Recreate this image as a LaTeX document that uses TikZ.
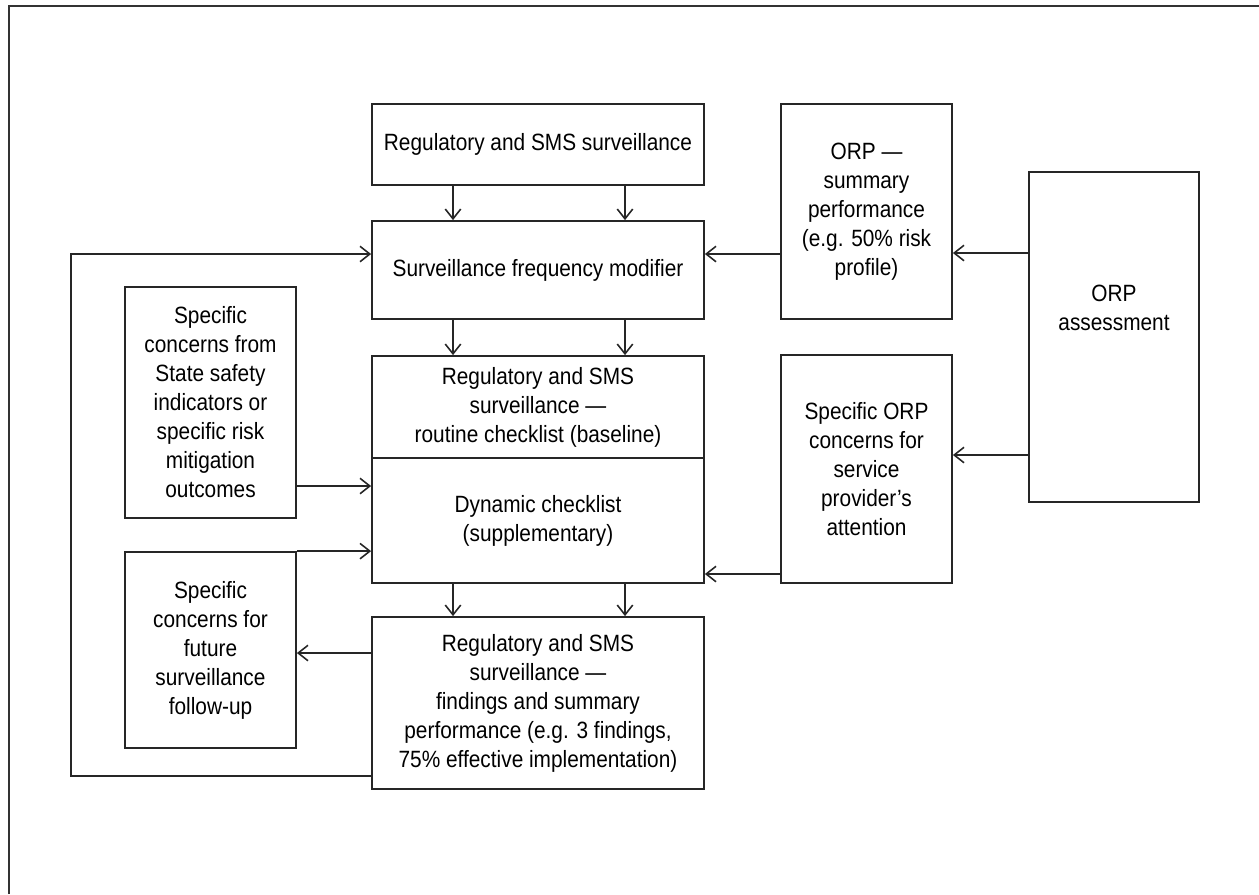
\documentclass[tikz,border=0pt]{standalone}
\usepackage{fontspec}
\setmainfont{Liberation Sans}[FakeStretch=0.885]
\usetikzlibrary{arrows.meta}

\begin{document}
\begin{tikzpicture}[
    font=\fontsize{6.7}{8.25}\selectfont,
    wide/.style={draw=black!85, line width=0.5pt, minimum width=3.32cm, align=center, inner sep=0pt},
    narrow/.style={draw=black!85, line width=0.5pt, minimum width=1.71cm, align=center, inner sep=0pt},
    arr/.style={-{Straight Barb[length=2.8pt,width=4.4pt]}, draw=black!85, line width=0.45pt}
]
    \useasboundingbox (0,0) rectangle (12.59,-8.94);
    \draw[black!80, line width=0.6pt] (0.09,-8.94) -- (0.09,-0.06) -- (12.59,-0.06);

    % middle column
    \node[wide, minimum height=0.81cm] (sms) at (5.38,-1.445) {Regulatory and SMS surveillance};
    \node[wide, minimum height=0.98cm] (freq) at (5.38,-2.70) {Surveillance frequency modifier};
    \node[wide, minimum height=1.02cm] (routine) at (5.38,-4.07) {Regulatory and SMS\\surveillance —\\routine checklist (baseline)};
    \node[wide, minimum height=1.25cm] (dynamic) at (5.38,-5.205) {Dynamic checklist\\(supplementary)};
    \node[wide, minimum height=1.72cm] (findings) at (5.38,-7.03) {Regulatory and SMS\\surveillance —\\findings and summary\\performance (e.g. 3 findings,\\75\% effective implementation)};

    % left column
    \node[narrow, line width=0.75pt, minimum height=2.31cm] (indicators) at (2.105,-4.025) {Specific\\concerns from\\State safety\\indicators or\\specific risk\\mitigation\\outcomes};
    \node[narrow, minimum height=1.96cm] (followup) at (2.105,-6.50) {Specific\\concerns for\\future\\surveillance\\follow-up};

    % right columns
    \node[narrow, minimum height=2.15cm] (summary) at (8.665,-2.115) {ORP —\\summary\\performance\\(e.g. 50\% risk\\profile)};
    \node[narrow, minimum height=2.28cm] (attention) at (8.665,-4.69) {Specific ORP\\concerns for\\service\\provider’s\\attention};
    \node[narrow, minimum width=1.70cm, minimum height=3.30cm,
          label={[align=center, yshift=0.29cm]center:ORP\\assessment}] (orp) at (11.14,-3.37) {};

    \foreach \a/\b in {sms/freq, freq/routine, dynamic/findings} {
        \draw[arr] ([xshift=-0.85cm]\a.south) -- ([xshift=-0.85cm]\b.north);
        \draw[arr] ([xshift=0.87cm]\a.south) -- ([xshift=0.87cm]\b.north);
    }

    \draw[arr] (orp.west |- 0,-2.53) -- (summary.east |- 0,-2.53);
    \draw[arr] (orp.west |- 0,-4.55) -- (attention.east |- 0,-4.55);
    \draw[arr] (summary.west |- 0,-2.54) -- (freq.east |- 0,-2.54);
    \draw[arr] (attention.west |- 0,-5.74) -- (dynamic.east |- 0,-5.74);

    \draw[arr] (indicators.east |- 0,-4.86) -- (dynamic.west |- 0,-4.86);
    \draw[arr] (followup.north east) -- (dynamic.west |- followup.north east);
    \draw[arr] (findings.west |- 0,-6.53) -- (followup.east |- 0,-6.53);

    % feedback loop
    \coordinate (loop) at (0.71,-2.54);
    \draw[arr] (findings.west |- 0,-7.76) -| (loop) -- (freq.west |- loop);
\end{tikzpicture}
\end{document}
